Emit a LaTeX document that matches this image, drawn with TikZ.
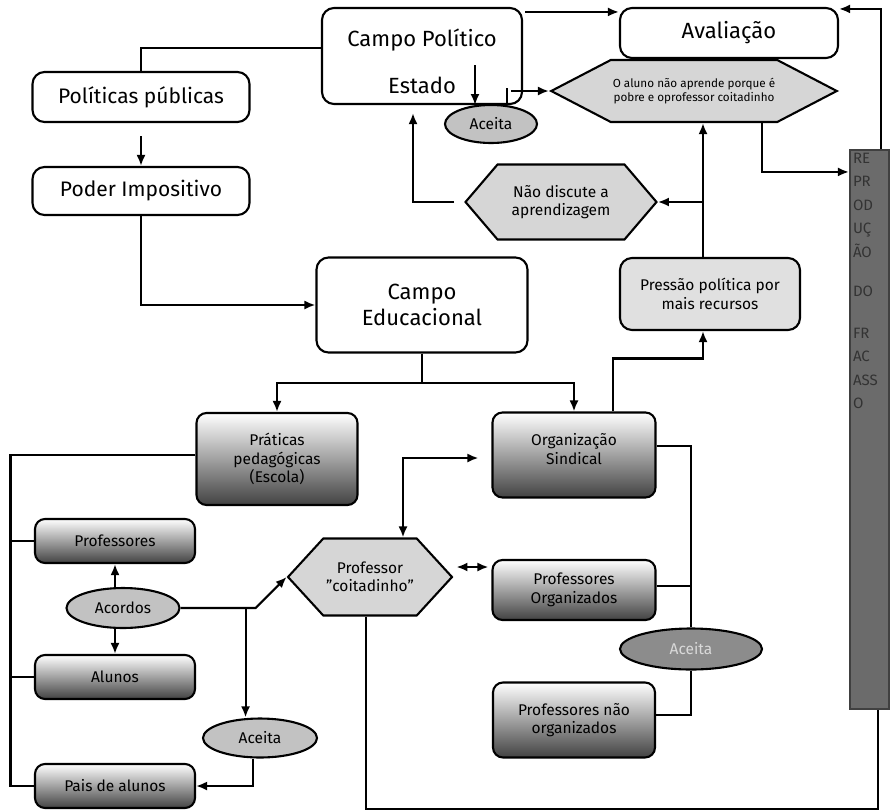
\documentclass[tikz,border=0pt]{standalone}
\usepackage{fontspec}
\setmainfont{Fira Sans}
\usetikzlibrary{arrows.meta,positioning,shapes.geometric,shapes.symbols,calc}

\begin{document}
\begin{tikzpicture}[x=1pt,y=-1pt,line width=2.1pt,>={Latex[length=11pt,width=9pt]},
  every node/.style={font=\fontsize{15.5}{18.5}\selectfont,align=center,inner sep=2pt},
  rbox/.style={draw,rounded corners=12pt,fill=white},
  gbox/.style={draw,rounded corners=10pt,top color=white,bottom color=black!74},
  hexa/.style={draw,signal,signal to=west and east,fill=black!16},
  oval/.style={draw,ellipse,fill=black!24,inner sep=0pt},
  big/.style={font=\fontsize{22}{26}\selectfont},
  mid/.style={font=\fontsize{21}{25}\selectfont},
  tiny/.style={font=\fontsize{11.7}{14.5}\selectfont}]
  \useasboundingbox (0,0) rectangle (891,809);
  % campo politico, avaliacao
  \node[rbox,minimum width=200pt,minimum height=96pt] (campopol) at (422,56) {};
  \node[big] (campotxt) at (422,61) {Campo Político\\[21pt]Estado};
  \node[rbox,big,minimum width=218pt,minimum height=50pt] (aval) at (729,33) {Avaliação};
  \node[hexa,tiny,minimum width=273pt,minimum height=62pt,signal pointer angle=55] (ohex) at (694,91) {O aluno não aprende porque é\\pobre e oprofessor coitadinho};
  \node[oval,minimum width=92pt,minimum height=38pt] (aceitaA) at (491,124) {Aceita};
  \node[rbox,mid,minimum width=217pt,minimum height=50pt] (polpub) at (141,97) {Políticas públicas};
  \node[rbox,mid,minimum width=217pt,minimum height=48pt] (poder) at (141,191) {Poder Impositivo};
  \node[rbox,big,minimum width=211pt,minimum height=95pt] (campoedu) at (422,305) {Campo\\Educacional};
  \node[hexa,minimum width=191pt,minimum height=75pt,signal pointer angle=99] (naohex) at (561,202) {Não discute a\\aprendizagem};
  \node[rbox,fill=black!12,minimum width=180pt,minimum height=72pt] (pressao) at (710,294) {Pressão política por\\mais recursos};
  % reproducao
  \node[draw=black!75,fill=black!58,minimum width=39pt,minimum height=559pt,inner sep=0pt] (repro) at (869.5,429.5) {};
  \node[anchor=north west,text=black!80,align=left,inner sep=0pt,font=\fontsize{15}{23.5}\selectfont] (reprotxt) at ([xshift=3pt,yshift=-3pt]repro.north west)
    {RE\\PR\\OD\\UÇ\\ÃO\\[16pt]DO\\[18pt]FR\\AC\\ASS\\O};
  % campo educacional
  \node[gbox,minimum width=161pt,minimum height=92pt] (praticas) at (277,459) {Práticas\\pedagógicas\\(Escola)};
  \node[gbox,minimum width=163pt,minimum height=85pt] (orgsind) at (574,455) {};
  \node (orgtxt) at (574,449) {Organização\\Sindical};
  \node[gbox,minimum width=160pt,minimum height=44pt] (profs) at (115,541) {Professores};
  \node[gbox,minimum width=160pt,minimum height=44pt] (alunos) at (115,677) {Alunos};
  \node[gbox,minimum width=160pt,minimum height=44pt] (paisal) at (115,786) {Pais de alunos};
  \node[gbox,minimum width=163pt,minimum height=60pt] (profsorg) at (574,590) {Professores\\Organizados};
  \node[gbox,minimum width=162pt,minimum height=75pt] (profsnorg) at (574,720) {Professores não\\organizados};
  \node[oval,minimum width=113pt,minimum height=40pt] (acordos) at (123,608) {Acordos};
  \node[oval,minimum width=114pt,minimum height=39pt] (aceitaB) at (260,738) {Aceita};
  \node[oval,fill=black!45,text=white!85!black,minimum width=142pt,minimum height=41pt] (aceitaC) at (691,649) {Aceita};
  \node[hexa,minimum width=164pt,minimum height=77pt,signal pointer angle=95] (profhex) at (370,577) {Professor\\"coitadinho"};

  % ligacoes de cima
  \draw (polpub.north) |- ([yshift=8pt]campopol.west);
  \draw[->,shorten <=13pt] (polpub.south) -- (poder.north);
  \draw[->] (poder.south) |- (campoedu.west);
  \draw[->] ([xshift=2pt,yshift=-5pt]campopol.north east) -- ([yshift=-5pt]aval.north west);
  \draw[->] ([xshift=-12pt]campopol.east |- ohex.west) -- (ohex.west);
  \draw[->] ([xshift=53pt,yshift=-9pt]campopol.center) -- ([xshift=53pt]campopol.south);
  \draw ([xshift=85pt]campopol.south) -- ++(0,-17);
  \draw[->,shorten >=8pt] ([xshift=-10pt]naohex.west) -| ([xshift=-9pt]campopol.south);
  \coordinate (jn) at ([xshift=-7pt]pressao.north |- naohex.east);
  \draw[->] ([xshift=-7pt]pressao.north) |- (naohex.east);
  \draw[->] (jn) -- (jn |- ohex.south);
  \draw[->] ([xshift=68pt]ohex.south) |- ([yshift=-23pt]repro.north west);
  \draw[->] ([xshift=-9pt]repro.north east) |- ([yshift=-2pt]aval.north east);
  % ligacoes do campo educacional
  \draw[->] (campoedu.south) -- ++(0,29) -| (praticas.north);
  \draw[->] (campoedu.south) -- ++(0,29) -| (orgsind.north);
  \draw[->] ([xshift=39pt]orgsind.north) -- ++(0,-53) -| ([xshift=-7pt]pressao.south);
  \draw ([yshift=4pt]praticas.west) -- ++(-185,0) coordinate (lv) -- (lv |- paisal.west) -- (paisal.west);
  \draw (lv |- profs.west) -- (profs.west);
  \draw (lv |- alunos.west) -- (alunos.west);
  \draw[->] (acordos.north -| profs.south) -- (profs.south);
  \draw[->] (acordos.south -| alunos.north) -- (alunos.north);
  \draw[->] (acordos.east) -- ++(75,0) -- (profhex.west);
  \draw[->] ([xshift=65pt]acordos.east) -- ([xshift=65pt]acordos.east |- aceitaB.north);
  \draw[->] ([xshift=-7pt]aceitaB.south) |- (paisal.east);
  \draw[<->] ([xshift=-13pt,yshift=-3pt]orgsind.west) -| ([xshift=33pt]profhex.north);
  \draw[<->] ([xshift=3pt,yshift=10pt]profhex.east) -- ([xshift=-3pt,yshift=23pt]profsorg.west);
  \draw ([yshift=9pt]orgsind.east) -| (aceitaC.north);
  \draw ([yshift=4pt]profsorg.east) -- ([yshift=4pt]profsorg.east -| aceitaC.north);
  \draw (aceitaC.south) |- ([yshift=5pt]profsnorg.east);
  \draw ([xshift=-4pt]profhex.south) -- ++(0,192) -| ([xshift=8.5pt]repro.south);
\end{tikzpicture}
\end{document}
